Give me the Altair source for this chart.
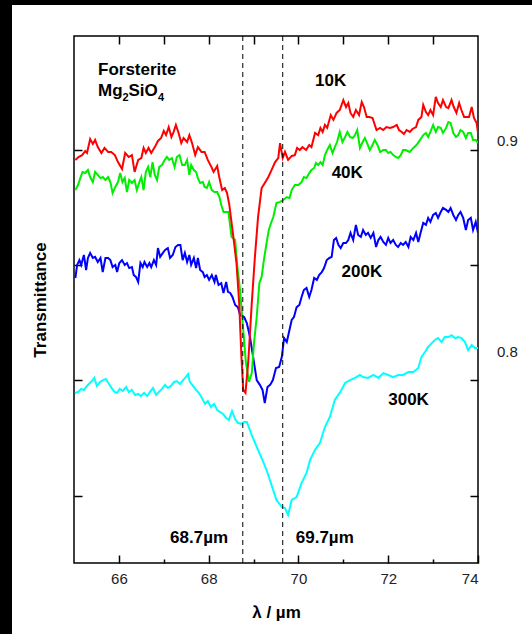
import altair as alt
import pandas as pd

# ---------------- data ----------------
x_10k = [65.03, 65.10, 65.18, 65.25, 65.29, 65.36, 65.42, 65.47, 65.53, 65.61, 65.68, 65.76, 65.83, 65.91, 65.98,
         66.07, 66.14, 66.22, 66.29, 66.35, 66.43, 66.50, 66.55, 66.60, 66.66, 66.72, 66.80, 66.87, 66.94, 67.00,
         67.05, 67.11, 67.17, 67.22, 67.27, 67.33, 67.39, 67.44, 67.52, 67.57, 67.63, 67.70, 67.76, 67.84, 67.91,
         67.98, 68.06, 68.11, 68.19, 68.24, 68.30, 68.36, 68.41, 68.46, 68.55, 68.62, 68.68, 68.73, 68.77, 68.82,
         68.88, 68.96, 69.03, 69.10, 69.18, 69.25, 69.33, 69.40, 69.48, 69.55, 69.59, 69.65, 69.70, 69.77, 69.85,
         69.92, 69.97, 70.03, 70.09, 70.17, 70.24, 70.29, 70.37, 70.44, 70.49, 70.54, 70.59, 70.64, 70.72, 70.78,
         70.85, 70.92, 71.00, 71.06, 71.11, 71.16, 71.22, 71.28, 71.35, 71.41, 71.46, 71.52, 71.58, 71.65, 71.74,
         71.82, 71.89, 71.96, 72.04, 72.11, 72.19, 72.24, 72.30, 72.35, 72.41, 72.48, 72.54, 72.62, 72.67, 72.74,
         72.78, 72.84, 72.89, 72.94, 73.00, 73.06, 73.11, 73.17, 73.22, 73.29, 73.34, 73.41, 73.46, 73.52, 73.58,
         73.63, 73.69, 73.75, 73.80, 73.86, 73.91, 73.97, 74.00]
y_10k = [0.8912, 0.8926, 0.8935, 0.8954, 0.8945, 0.9011, 0.8988, 0.9007, 0.8973, 0.8945, 0.8969, 0.8950, 0.8950, 0.8935, 0.8902,
         0.8869, 0.8945, 0.8926, 0.8935, 0.8855, 0.8912, 0.8921, 0.8969, 0.8945, 0.8969, 0.8945, 0.8973, 0.9002, 0.9016, 0.9050,
         0.9030, 0.9068, 0.9021, 0.9045, 0.9078, 0.9040, 0.8992, 0.9016, 0.8997, 0.9030, 0.8992, 0.8935, 0.8973, 0.8950, 0.8950,
         0.8912, 0.8879, 0.8855, 0.8883, 0.8826, 0.8769, 0.8779, 0.8755, 0.8699, 0.8547, 0.8423, 0.8233, 0.7978, 0.7821, 0.7807,
         0.7949, 0.8233, 0.8452, 0.8641, 0.8779, 0.8803, 0.8831, 0.8864, 0.8902, 0.8921, 0.8992, 0.8921, 0.8950, 0.8912, 0.8931,
         0.8935, 0.8969, 0.8959, 0.8973, 0.8959, 0.8983, 0.8973, 0.9040, 0.9030, 0.9064, 0.9045, 0.9078, 0.9064, 0.9125, 0.9102,
         0.9135, 0.9149, 0.9196, 0.9163, 0.9182, 0.9135, 0.9116, 0.9149, 0.9125, 0.9187, 0.9163, 0.9116, 0.9116, 0.9111, 0.9054,
         0.9064, 0.9054, 0.9068, 0.9064, 0.9068, 0.9078, 0.9054, 0.9045, 0.9035, 0.9054, 0.9045, 0.9059, 0.9068, 0.9102, 0.9116,
         0.9173, 0.9139, 0.9125, 0.9149, 0.9125, 0.9211, 0.9182, 0.9163, 0.9196, 0.9163, 0.9158, 0.9196, 0.9163, 0.9135, 0.9182,
         0.9149, 0.9116, 0.9116, 0.9116, 0.9163, 0.9111, 0.9087, 0.9040]

x_40k = [65.03, 65.09, 65.14, 65.19, 65.25, 65.31, 65.36, 65.42, 65.47, 65.53, 65.59, 65.64, 65.70, 65.76, 65.81,
         65.86, 65.92, 65.98, 66.03, 66.08, 66.13, 66.18, 66.23, 66.29, 66.35, 66.40, 66.45, 66.50, 66.55, 66.60,
         66.65, 66.70, 66.75, 66.80, 66.85, 66.90, 66.96, 67.02, 67.07, 67.12, 67.18, 67.24, 67.29, 67.35, 67.41,
         67.47, 67.52, 67.57, 67.61, 67.67, 67.72, 67.76, 67.81, 67.87, 67.91, 67.96, 68.01, 68.07, 68.13, 68.19,
         68.24, 68.28, 68.33, 68.44, 68.51, 68.59, 68.64, 68.70, 68.77, 68.83, 68.90, 68.96, 69.01, 69.07, 69.13,
         69.18, 69.23, 69.29, 69.34, 69.39, 69.44, 69.51, 69.59, 69.66, 69.74, 69.80, 69.85, 69.92, 70.00, 70.07,
         70.12, 70.18, 70.24, 70.29, 70.35, 70.39, 70.44, 70.49, 70.54, 70.59, 70.64, 70.70, 70.76, 70.81, 70.86,
         70.92, 70.98, 71.04, 71.09, 71.15, 71.21, 71.26, 71.31, 71.37, 71.43, 71.48, 71.53, 71.59, 71.65, 71.70,
         71.76, 71.82, 71.89, 71.95, 72.00, 72.05, 72.11, 72.17, 72.22, 72.28, 72.33, 72.39, 72.48, 72.56, 72.63,
         72.71, 72.78, 72.84, 72.89, 72.94, 73.00, 73.06, 73.11, 73.17, 73.22, 73.29, 73.34, 73.39, 73.45, 73.51,
         73.56, 73.61, 73.67, 73.73, 73.78, 73.84, 73.89, 73.95, 74.00]
y_40k = [0.8769, 0.8793, 0.8826, 0.8855, 0.8850, 0.8864, 0.8831, 0.8807, 0.8855, 0.8841, 0.8826, 0.8831, 0.8817, 0.8831, 0.8807,
         0.8755, 0.8784, 0.8807, 0.8850, 0.8807, 0.8826, 0.8760, 0.8817, 0.8803, 0.8817, 0.8769, 0.8803, 0.8831, 0.8769, 0.8855,
         0.8879, 0.8831, 0.8902, 0.8841, 0.8817, 0.8879, 0.8888, 0.8912, 0.8926, 0.8912, 0.8921, 0.8879, 0.8926, 0.8935, 0.8888,
         0.8888, 0.8912, 0.8841, 0.8888, 0.8864, 0.8855, 0.8826, 0.8803, 0.8807, 0.8784, 0.8779, 0.8807, 0.8769, 0.8760, 0.8760,
         0.8736, 0.8699, 0.8665, 0.8665, 0.8547, 0.8532, 0.8404, 0.8295, 0.8105, 0.7949, 0.7859, 0.7901, 0.8043, 0.8167, 0.8328,
         0.8357, 0.8437, 0.8518, 0.8580, 0.8613, 0.8641, 0.8708, 0.8713, 0.8722, 0.8736, 0.8731, 0.8769, 0.8793, 0.8793, 0.8807,
         0.8831, 0.8826, 0.8850, 0.8864, 0.8874, 0.8898, 0.8888, 0.8902, 0.8888, 0.8935, 0.8959, 0.8983, 0.8945, 0.8973, 0.8997,
         0.9045, 0.8997, 0.9021, 0.9045, 0.9021, 0.9016, 0.9030, 0.9054, 0.8969, 0.8997, 0.9016, 0.8992, 0.8959, 0.8983, 0.9007,
         0.8983, 0.8950, 0.8959, 0.8959, 0.8945, 0.8950, 0.8935, 0.8926, 0.8921, 0.8935, 0.8959, 0.8959, 0.8950, 0.8969, 0.8983,
         0.9007, 0.9030, 0.9040, 0.9021, 0.9045, 0.9078, 0.9045, 0.9068, 0.9064, 0.9040, 0.9064, 0.9092, 0.9087, 0.9040, 0.9021,
         0.9030, 0.9054, 0.9045, 0.9016, 0.9040, 0.9040, 0.9007, 0.9007, 0.8992]

x_200k = [65.03, 65.07, 65.12, 65.16, 65.22, 65.27, 65.31, 65.36, 65.42, 65.47, 65.53, 65.59, 65.64, 65.70, 65.76,
          65.81, 65.86, 65.92, 65.96, 66.01, 66.07, 66.13, 66.18, 66.23, 66.29, 66.33, 66.38, 66.43, 66.48, 66.53,
          66.57, 66.63, 66.68, 66.72, 66.78, 66.83, 66.87, 66.92, 66.98, 67.03, 67.09, 67.14, 67.20, 67.26, 67.32,
          67.37, 67.42, 67.47, 67.52, 67.57, 67.61, 67.67, 67.72, 67.76, 67.81, 67.87, 67.91, 67.96, 68.01, 68.07,
          68.13, 68.16, 68.22, 68.28, 68.33, 68.39, 68.43, 68.48, 68.53, 68.59, 68.65, 68.70, 68.79, 68.85, 68.92,
          68.99, 69.07, 69.14, 69.20, 69.25, 69.31, 69.37, 69.43, 69.50, 69.57, 69.63, 69.68, 69.74, 69.80, 69.85,
          69.90, 69.96, 70.02, 70.07, 70.12, 70.18, 70.24, 70.29, 70.35, 70.41, 70.46, 70.52, 70.57, 70.63, 70.69,
          70.74, 70.79, 70.84, 70.89, 70.94, 71.00, 71.06, 71.11, 71.16, 71.22, 71.28, 71.33, 71.39, 71.44, 71.50,
          71.55, 71.61, 71.67, 71.73, 71.78, 71.83, 71.89, 71.95, 72.00, 72.05, 72.11, 72.17, 72.22, 72.28, 72.33,
          72.39, 72.45, 72.50, 72.56, 72.62, 72.67, 72.72, 72.78, 72.84, 72.89, 72.94, 73.00, 73.06, 73.11, 73.17,
          73.22, 73.29, 73.34, 73.39, 73.45, 73.51, 73.56, 73.61, 73.67, 73.73, 73.78, 73.84, 73.89, 73.95, 74.00]
y_200k = [0.8352, 0.8414, 0.8437, 0.8414, 0.8461, 0.8390, 0.8447, 0.8471, 0.8447, 0.8452, 0.8428, 0.8447, 0.8380, 0.8447, 0.8447,
          0.8437, 0.8404, 0.8414, 0.8380, 0.8423, 0.8437, 0.8414, 0.8423, 0.8399, 0.8404, 0.8366, 0.8357, 0.8333, 0.8423, 0.8404,
          0.8428, 0.8404, 0.8423, 0.8404, 0.8437, 0.8414, 0.8494, 0.8452, 0.8471, 0.8485, 0.8494, 0.8447, 0.8461, 0.8499, 0.8509,
          0.8509, 0.8437, 0.8471, 0.8428, 0.8461, 0.8414, 0.8447, 0.8399, 0.8447, 0.8390, 0.8380, 0.8357, 0.8366, 0.8343, 0.8366,
          0.8333, 0.8366, 0.8319, 0.8328, 0.8281, 0.8333, 0.8286, 0.8281, 0.8262, 0.8224, 0.8214, 0.8176, 0.8167, 0.8138, 0.8072,
          0.7978, 0.7868, 0.7845, 0.7821, 0.7759, 0.7835, 0.7845, 0.7868, 0.7925, 0.7930, 0.7978, 0.8067, 0.8048, 0.8105, 0.8153,
          0.8167, 0.8214, 0.8224, 0.8262, 0.8295, 0.8305, 0.8262, 0.8295, 0.8352, 0.8343, 0.8366, 0.8380, 0.8399, 0.8437, 0.8447,
          0.8452, 0.8532, 0.8542, 0.8509, 0.8494, 0.8518, 0.8518, 0.8532, 0.8566, 0.8532, 0.8604, 0.8556, 0.8547, 0.8580, 0.8556,
          0.8566, 0.8542, 0.8566, 0.8499, 0.8532, 0.8547, 0.8523, 0.8509, 0.8542, 0.8518, 0.8532, 0.8509, 0.8499, 0.8518, 0.8509,
          0.8523, 0.8499, 0.8547, 0.8532, 0.8566, 0.8523, 0.8566, 0.8613, 0.8604, 0.8637, 0.8618, 0.8651, 0.8660, 0.8637, 0.8665,
          0.8684, 0.8675, 0.8665, 0.8684, 0.8651, 0.8627, 0.8651, 0.8665, 0.8637, 0.8580, 0.8627, 0.8637, 0.8580, 0.8618, 0.8566]

x_300k = [65.02, 65.09, 65.16, 65.22, 65.27, 65.33, 65.40, 65.45, 65.51, 65.58, 65.65, 65.71, 65.78, 65.85, 65.91,
          65.96, 66.02, 66.09, 66.16, 66.22, 66.29, 66.36, 66.43, 66.49, 66.56, 66.63, 66.69, 66.76, 66.83, 66.89,
          66.96, 67.03, 67.09, 67.16, 67.23, 67.29, 67.36, 67.43, 67.49, 67.54, 67.58, 67.65, 67.72, 67.78, 67.85,
          67.92, 67.98, 68.05, 68.12, 68.19, 68.25, 68.32, 68.39, 68.45, 68.52, 68.59, 68.65, 68.72, 68.79, 68.85,
          68.96, 69.07, 69.18, 69.29, 69.40, 69.51, 69.63, 69.70, 69.77, 69.85, 69.96, 70.07, 70.18, 70.26, 70.37,
          70.48, 70.59, 70.70, 70.81, 70.92, 71.04, 71.15, 71.26, 71.37, 71.44, 71.55, 71.67, 71.78, 71.89, 72.00,
          72.11, 72.22, 72.33, 72.45, 72.56, 72.67, 72.74, 72.82, 72.89, 72.97, 73.04, 73.11, 73.19, 73.26, 73.34,
          73.41, 73.49, 73.56, 73.63, 73.71, 73.78, 73.86, 73.93, 74.00]
y_300k = [0.7807, 0.7811, 0.7826, 0.7821, 0.7835, 0.7849, 0.7863, 0.7878, 0.7840, 0.7859, 0.7868, 0.7873, 0.7849, 0.7826, 0.7811,
          0.7807, 0.7826, 0.7816, 0.7835, 0.7811, 0.7821, 0.7797, 0.7802, 0.7792, 0.7807, 0.7792, 0.7811, 0.7830, 0.7797, 0.7811,
          0.7826, 0.7845, 0.7830, 0.7840, 0.7859, 0.7863, 0.7849, 0.7868, 0.7882, 0.7896, 0.7859, 0.7840, 0.7821, 0.7807, 0.7783,
          0.7755, 0.7769, 0.7740, 0.7755, 0.7726, 0.7717, 0.7707, 0.7688, 0.7679, 0.7721, 0.7683, 0.7665, 0.7660, 0.7669, 0.7669,
          0.7607, 0.7551, 0.7498, 0.7441, 0.7370, 0.7299, 0.7266, 0.7261, 0.7228, 0.7299, 0.7313, 0.7380, 0.7427, 0.7489, 0.7537,
          0.7570, 0.7645, 0.7693, 0.7773, 0.7807, 0.7854, 0.7868, 0.7878, 0.7892, 0.7882, 0.7878, 0.7892, 0.7878, 0.7901, 0.7892,
          0.7882, 0.7892, 0.7892, 0.7906, 0.7906, 0.7925, 0.7978, 0.8001, 0.8025, 0.8043, 0.8058, 0.8067, 0.8048, 0.8072, 0.8072,
          0.8081, 0.8067, 0.8072, 0.8067, 0.8048, 0.8010, 0.8034, 0.8020, 0.8020]

series_names = ["300K", "200K", "40K", "10K"]
series_colors = ["#00ffff", "#0000ff", "#00ee00", "#ff0000"]

# band positions (µm)
band_x = [68.76, 69.65]

# axis ticks
x_major = [66, 68, 70, 72, 74]
x_minor = [67, 69, 71, 73]
x_top = [66, 67, 68, 69, 70, 71, 72, 73]
y_ticks = [0.7318, 0.7868, 0.8414, 0.8959]
right_labels = ["0.9", "0.8"]
right_vals = [0.9, 0.8]

# annotations
ann_text = ["Forsterite", "Mg", "2", "SiO", "4", "10K", "40K", "200K", "300K", "68.7µm", "69.7µm"]
ann_x = [65.535, 65.535, 66.08, 66.214, 66.871, 70.37, 70.74, 70.96, 72.00, 67.14, 69.94]
ann_y = [0.9315, 0.9215, 0.9190, 0.9215, 0.9190, 0.9263, 0.8826, 0.8357, 0.7750, 0.7095, 0.7095]
ann_size = [17, 17, 11, 17, 11, 17, 17, 17, 17, 17, 17]

# ---------------- chart ----------------
FONT = "Liberation Sans"
W, H = 404, 527
PAD_R, PAD_B = 54, 71
XS = alt.Scale(domain=[65, 74], nice=False, zero=False)
YS = alt.Scale(domain=[0.70, 0.95], nice=False, zero=False)

series_data = {
    "10K": (x_10k, y_10k),
    "40K": (x_40k, y_40k),
    "200K": (x_200k, y_200k),
    "300K": (x_300k, y_300k),
}

# dark frame strips along the left and top edges of the picture (outside the plot)
frame_l = alt.Chart(pd.DataFrame({"a": [0]})).mark_rect(color="black").encode(
    x=alt.value(-74), x2=alt.value(-62), y=alt.value(-36), y2=alt.value(H + PAD_B)
)
frame_t = alt.Chart(pd.DataFrame({"a": [0]})).mark_rect(color="black").encode(
    x=alt.value(-74), x2=alt.value(W + PAD_R), y=alt.value(-36), y2=alt.value(-31)
)

layers = [frame_l, frame_t]
for i, (name, col) in enumerate(zip(series_names, series_colors)):
    xs, ys = series_data[name]
    d = pd.DataFrame({"wl": xs, "T": ys})
    if i == 0:
        xax = alt.Axis(orient="bottom", values=x_major, tickSize={"expr": "-8"}, labelPadding=16,
                       labelFontSize=15, labelColor="#222", labelFont=FONT,
                       title="λ / µm", titleFontSize=17, titleFont=FONT, titleFontWeight="bold",
                       titlePadding=18, offset=0)
        yax = alt.Axis(orient="left", values=y_ticks, labels=False, tickSize={"expr": "-8"},
                       title="Transmittance", titleFontSize=17, titleFont=FONT, titleFontWeight="bold",
                       titlePadding=24, offset=0)
    else:
        xax = None
        yax = None
    layers.append(
        alt.Chart(d).mark_line(color=col, strokeWidth=2, clip=True).encode(
            x=alt.X("wl:Q", scale=XS, axis=xax),
            y=alt.Y("T:Q", scale=YS, axis=yax),
        )
    )

rules = alt.Chart(pd.DataFrame({"wl": band_x})).mark_rule(
    color="black", strokeWidth=1, strokeDash=[5, 4]
).encode(
    x=alt.X("wl:Q", scale=XS, axis=alt.Axis(orient="top", values=x_top, labels=False,
                                            tickSize={"expr": "-8"}, title=None, offset=0)),
)

right = alt.Chart(pd.DataFrame({"lab": right_labels, "v": right_vals})).mark_text(
    align="left", baseline="middle", font=FONT, fontSize=15, color="#222"
).encode(
    x=alt.value(W + 19),
    y=alt.Y("v:Q", scale=YS, axis=alt.Axis(orient="right", values=y_ticks, labels=False,
                                           tickSize={"expr": "-8"}, title=None, offset=0)),
    text="lab:N",
)

ann = alt.Chart(pd.DataFrame({"t": ann_text, "x": ann_x, "y": ann_y, "s": ann_size})).mark_text(
    align="left", baseline="alphabetic", font=FONT, fontWeight="bold", color="black"
).encode(
    x=alt.X("x:Q", scale=XS, axis=alt.Axis(orient="bottom", values=x_minor, labels=False,
                                           tickSize={"expr": "-4"}, title=None, offset=0)),
    y=alt.Y("y:Q", scale=YS, axis=None),
    text="t:N",
    size=alt.Size("s:Q", scale=None, legend=None),
)

chart = alt.layer(*layers, rules, right, ann).resolve_axis(
    x="independent", y="independent"
).properties(
    width=W, height=H, autosize="none",
    padding={"left": 74, "top": 36, "right": PAD_R, "bottom": PAD_B},
    background="white",
).configure_view(
    stroke="black", strokeWidth=1.5
).configure_axis(
    domain=False, grid=False, tickColor="black", tickWidth=1.5
)

chart.save("out.html", embed_options={"renderer": "svg", "actions": False})
